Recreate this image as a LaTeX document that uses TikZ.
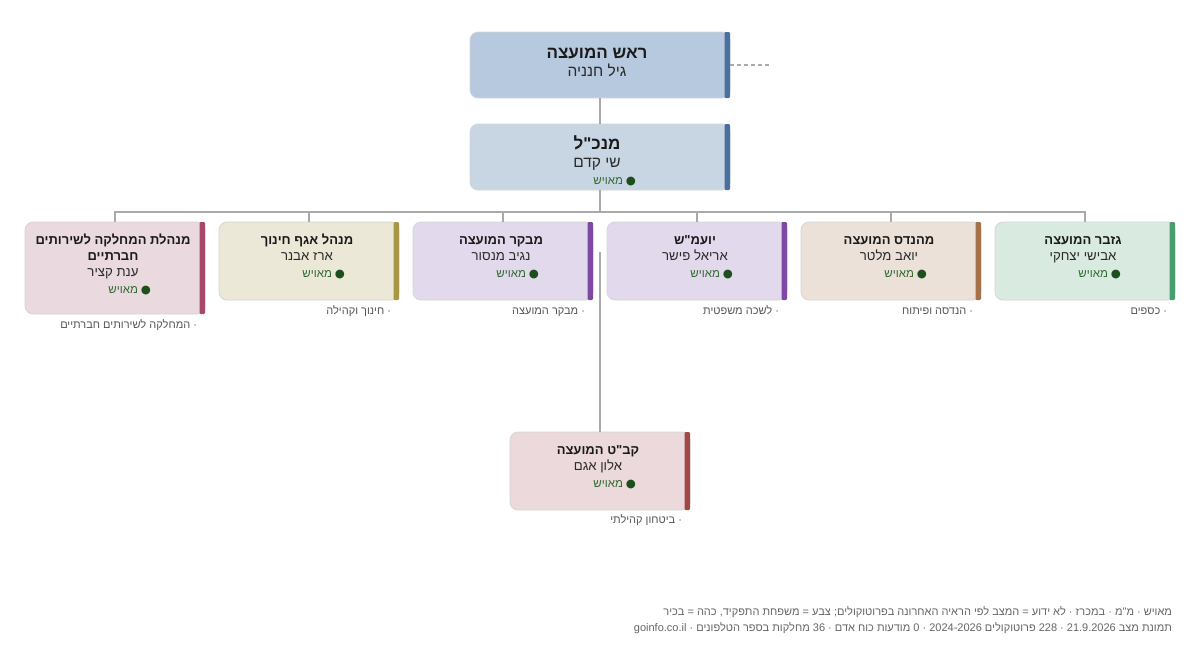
\documentclass[tikz,border=0pt]{standalone}
\usepackage{fontspec}
\newfontfamily\heb[Script=Hebrew]{Liberation Sans}
\newfontfamily\symf{DejaVu Sans}
\TeXXeTstate=1
\newcommand{\rtl}[1]{\beginR#1\endR}
\newcommand{\ltrr}[1]{\beginL#1\endL{}}
\definecolor{linec}{HTML}{AAAAAA}
\definecolor{bordc}{HTML}{D6D6D6}
\definecolor{topfill}{HTML}{B7C9DE}
\definecolor{midfill}{HTML}{C8D5E3}
\definecolor{bluebar}{HTML}{4A70A0}
\definecolor{socfill}{HTML}{EAD9DF}
\definecolor{socbar}{HTML}{A8476A}
\definecolor{edufill}{HTML}{EBE8D7}
\definecolor{edubar}{HTML}{A89545}
\definecolor{purfill}{HTML}{E3D9EC}
\definecolor{purbar}{HTML}{7D49A3}
\definecolor{engfill}{HTML}{ECE1D9}
\definecolor{engbar}{HTML}{A5714A}
\definecolor{trefill}{HTML}{D9EBE0}
\definecolor{trebar}{HTML}{4A9E6E}
\definecolor{secfill}{HTML}{ECD9DB}
\definecolor{secbar}{HTML}{A04848}
\definecolor{titc}{HTML}{1A1A1A}
\definecolor{namec}{HTML}{2A2A2A}
\definecolor{statc}{HTML}{2E6B2E}
\definecolor{dotc}{HTML}{1B4F1B}
\definecolor{subc}{HTML}{555555}
\definecolor{footc}{HTML}{666666}
\begin{document}
\begin{tikzpicture}[x=1pt,y=-1pt,
  every node/.style={inner sep=0pt,outer sep=0pt,font=\heb},
  box/.style={draw=bordc,line width=0.8pt,rounded corners=8pt},
  conn/.style={draw=linec,line width=1.6pt},
  ttl/.style={anchor=base,text=titc,font=\heb\bfseries\fontsize{13}{15}\selectfont},
  nm/.style={anchor=base,text=namec,font=\heb\fontsize{13.2}{15}\selectfont},
  stat/.style={anchor=base east,text=statc,font=\heb\fontsize{11.5}{13}\selectfont},
  sublbl/.style={anchor=base east,text=subc,font=\heb\fontsize{11}{13}\selectfont},
  foot/.style={anchor=base east,text=footc,font=\heb\fontsize{11}{13}\selectfont}]
\useasboundingbox[fill=white] (0,0) rectangle (1200,662);
\newcommand{\statustext}{\rtl{מאויש}\hspace{3pt}{\symf\fontsize{11.5}{12}\selectfont\textcolor{dotc}{●}}}
% ---- boxes
\node[box,fill=topfill,minimum width=260pt,minimum height=66pt] (top) at (600,65) {};
\node[box,fill=midfill,minimum width=260pt,minimum height=66pt] (mid) at (600,157) {};
\node[box,fill=socfill,minimum width=180pt,minimum height=92pt] (c1) at (115,268) {};
\node[box,fill=edufill,minimum width=180pt,minimum height=78pt] (c2) at (309,261) {};
\node[box,fill=purfill,minimum width=180pt,minimum height=78pt] (c3) at (503,261) {};
\node[box,fill=purfill,minimum width=180pt,minimum height=78pt] (c4) at (697,261) {};
\node[box,fill=engfill,minimum width=180pt,minimum height=78pt] (c5) at (891,261) {};
\node[box,fill=trefill,minimum width=180pt,minimum height=78pt] (c6) at (1085,261) {};
\node[box,fill=secfill,minimum width=180pt,minimum height=78pt] (k) at (600,471) {};
% ---- bars
\foreach \b/\c in {top/bluebar,mid/bluebar,c1/socbar,c2/edubar,c3/purbar,c4/purbar,c5/engbar,c6/trebar,k/secbar}{
  \fill[\c,rounded corners=1.2pt] ([xshift=-5.5pt]\b.north east) rectangle ([xshift=0pt]\b.south east);
}
% ---- connectors
\coordinate (dend) at (770,65);
\draw[draw=linec,line width=1.3pt,dash pattern=on 4pt off 3pt] (top.east) -- (dend);
\draw[conn] (top.south) -- (mid.north);
\foreach \c in {c1,c2,c3,c4,c5,c6}{
  \draw[conn] (mid.south) -- ++(0,22) -| (\c.north);
}
\coordinate (kt) at (600,252);
\draw[conn] (kt) -- (k.north);
% ---- top texts
\node[anchor=base,text=titc,font=\heb\bfseries\fontsize{17}{19}\selectfont] (t1) at (597,58) {\rtl{ראש המועצה}};
\node[anchor=base,text=namec,font=\heb\fontsize{15.5}{18}\selectfont] (n1) at (597,76) {\rtl{גיל חנניה}};
\node[anchor=base,text=titc,font=\heb\bfseries\fontsize{17}{19}\selectfont] (t2) at (597,149) {\rtl{מנכ"ל}};
\node[anchor=base,text=namec,font=\heb\fontsize{15.5}{18}\selectfont] (n2) at (597,167) {\rtl{שי קדם}};
\node[stat] (s2) at (636,184) {\statustext};
% ---- child 1
\node[ttl] (t3a) at (113,244) {\rtl{מנהלת המחלקה לשירותים}};
\node[ttl] (t3b) at (113,260) {\rtl{חברתיים}};
\node[nm] (n3) at (113,276) {\rtl{ענת קציר}};
\node[stat] (s3) at (151,293) {\statustext};
\node[sublbl] (l3) at (197,328) {\rtl{· המחלקה לשירותים חברתיים}};
% ---- child 2
\node[ttl] (t4) at (307,244) {\rtl{מנהל אגף חינוך}};
\node[nm] (n4) at (307,260) {\rtl{ארז אבנר}};
\node[stat] (s4) at (345,277) {\statustext};
\node[sublbl] (l4) at (391,314) {\rtl{· חינוך וקהילה}};
% ---- child 3
\node[ttl] (t5) at (501,244) {\rtl{מבקר המועצה}};
\node[nm] (n5) at (501,260) {\rtl{נגיב מנסור}};
\node[stat] (s5) at (539,277) {\statustext};
\node[sublbl] (l5) at (585,314) {\rtl{· מבקר המועצה}};
% ---- child 4
\node[ttl] (t6) at (695,244) {\rtl{יועמ"ש}};
\node[nm] (n6) at (695,260) {\rtl{אריאל פישר}};
\node[stat] (s6) at (733,277) {\statustext};
\node[sublbl] (l6) at (779,314) {\rtl{· לשכה משפטית}};
% ---- child 5
\node[ttl] (t7) at (889,244) {\rtl{מהנדס המועצה}};
\node[nm] (n7) at (889,260) {\rtl{יואב מלטר}};
\node[stat] (s7) at (927,277) {\statustext};
\node[sublbl] (l7) at (973,314) {\rtl{· הנדסה ופיתוח}};
% ---- child 6
\node[ttl] (t8) at (1083,244) {\rtl{גזבר המועצה}};
\node[nm] (n8) at (1083,260) {\rtl{אבישי יצחקי}};
\node[stat] (s8) at (1121,277) {\statustext};
\node[sublbl] (l8) at (1167,314) {\rtl{· כספים}};
% ---- security
\node[ttl] (t9) at (598,454) {\rtl{קב"ט המועצה}};
\node[nm] (n9) at (598,470) {\rtl{אלון אגם}};
\node[stat] (s9) at (636,487) {\statustext};
\node[sublbl] (l9) at (682,523) {\rtl{· ביטחון קהילתי}};
% ---- footer
\node[foot] (f1) at (1172,615) {\rtl{מאויש · מ"מ · במכרז · לא ידוע = המצב לפי הראיה האחרונה בפרוטוקולים; צבע = משפחת התפקיד, כהה = בכיר}};
\node[foot] (f2) at (1172,631) {\rtl{תמונת מצב \ltrr{21.9.2026} · \ltrr{228} פרוטוקולים \ltrr{2024-2026} · \ltrr{0} מודעות כוח אדם · \ltrr{36} מחלקות בספר הטלפונים · \ltrr{goinfo.co.il}}};
\end{tikzpicture}
\end{document}
